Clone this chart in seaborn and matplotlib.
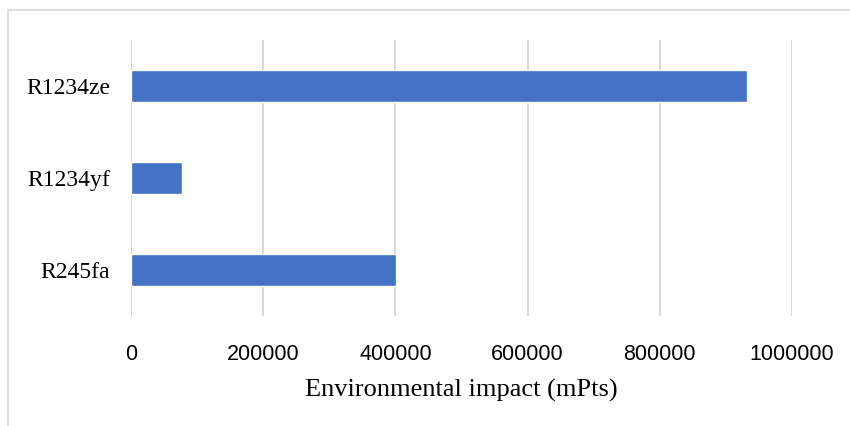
import matplotlib
matplotlib.use("Agg")
import matplotlib.pyplot as plt
from matplotlib.lines import Line2D
import seaborn as sns
import pandas as pd

refrigerants = ["R1234ze", "R1234yf", "R245fa"]
impact_mpts = [932000, 77000, 401000]
x_ticks = [0, 200000, 400000, 600000, 800000, 1000000]

df = pd.DataFrame({"Refrigerant": refrigerants, "Impact": impact_mpts})

sns.set_theme(style="white")
plt.rcParams["font.family"] = ["Liberation Serif", "DejaVu Serif"]

fig = plt.figure(figsize=(8.5, 4.26), dpi=100)
ax = fig.add_axes([131 / 850, 1 - 316 / 426, (792 - 131) / 850, (316 - 40) / 426])

sns.barplot(data=df, x="Impact", y="Refrigerant", orient="h", color="#4472C4",
            width=0.35, saturation=1, ax=ax, zorder=3)

ax.set_xlim(0, 1000000)
ax.set_ylim(2.5, -0.5)
ax.set_xticks(x_ticks)
ax.set_xticklabels([str(t) for t in x_ticks], family=["Liberation Sans", "DejaVu Sans"],
                   fontsize=15.5, color="#000000")
ax.set_yticklabels(refrigerants, fontsize=17, color="#000000")
ax.tick_params(axis="x", length=0, pad=20)
ax.tick_params(axis="y", length=0, pad=15)
ax.grid(axis="x", color="#d9d9d9", linewidth=1.5, zorder=0)
ax.grid(axis="y", visible=False)
for s in ax.spines.values():
    s.set_visible(False)
ax.set_ylabel("")
ax.set_xlabel("Environmental impact (mPts)", fontsize=19, color="#000000", labelpad=10)

# chart-area frame
frame_color = "#d9d9d9"
fig.add_artist(Line2D([8 / 850, 8 / 850], [0, 1 - 10 / 426], transform=fig.transFigure,
                      color=frame_color, linewidth=1.2))
fig.add_artist(Line2D([8 / 850, 1], [1 - 10 / 426, 1 - 10 / 426], transform=fig.transFigure,
                      color=frame_color, linewidth=1.2))

fig.savefig("out.png", dpi=100)
